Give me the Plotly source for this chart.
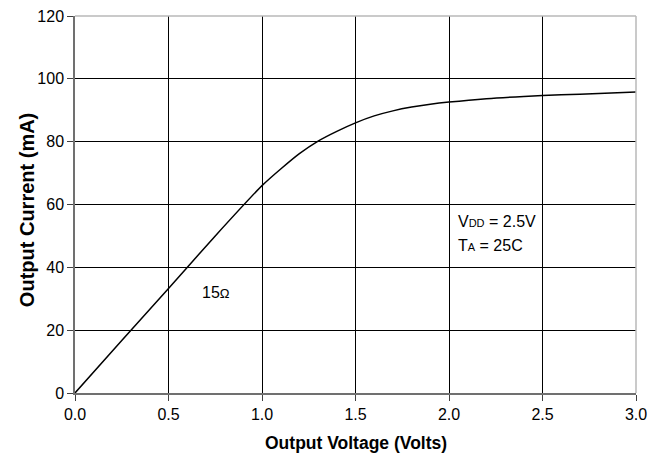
import plotly.graph_objects as go

voltage = [0.0, 0.25, 0.5, 0.75, 1.0, 1.1, 1.2, 1.3, 1.4, 1.5, 1.6, 1.7, 1.8, 1.9, 2.0, 2.2, 2.4, 2.6, 2.8, 3.0]
current = [0.0, 16.7, 33.3, 50.0, 66.0, 71.3, 76.2, 80.2, 83.3, 86.0, 88.2, 89.8, 91.0, 91.9, 92.6, 93.7, 94.4, 94.9, 95.3, 95.8]

x_ticks = [0.0, 0.5, 1.0, 1.5, 2.0, 2.5, 3.0]
x_tick_labels = ["0.0", "0.5", "1.0", "1.5", "2.0", "2.5", "3.0"]
y_ticks = [0, 20, 40, 60, 80, 100, 120]

FONT = "Liberation Sans, Arial, sans-serif"

fig = go.Figure()
fig.add_trace(go.Scatter(x=voltage, y=current, mode="lines",
                         line=dict(color="black", width=1.5, shape="spline", smoothing=0.6),
                         hoverinfo="skip", showlegend=False))

fig.update_xaxes(range=[0, 3.0], tickvals=x_ticks, ticktext=x_tick_labels,
                 showgrid=True, gridcolor="black", gridwidth=1,
                 showline=True, linecolor="#707070", linewidth=1.5,
                 ticks="outside", ticklen=6, tickcolor="#404040",
                 tickfont=dict(family=FONT, size=16, color="black"),
                 zeroline=False, automargin=False)
fig.update_yaxes(range=[0, 120], tickvals=y_ticks,
                 showgrid=True, gridcolor="black", gridwidth=1,
                 showline=True, linecolor="#707070", linewidth=1.5,
                 ticks="outside", ticklen=6, tickcolor="#404040",
                 tickfont=dict(family=FONT, size=16, color="black"),
                 zeroline=False, automargin=False)

# light top/right frame
fig.add_shape(type="line", xref="paper", yref="paper", x0=0, x1=1, y0=1, y1=1,
              line=dict(color="#b8b8b8", width=1.5))
fig.add_shape(type="line", xref="paper", yref="paper", x0=1, x1=1, y0=0, y1=1,
              line=dict(color="#b8b8b8", width=1.5))

# axis titles
fig.add_annotation(xref="paper", yref="paper", x=0.5, y=-0.133, xanchor="center", yanchor="middle",
                   showarrow=False, text="<b>Output Voltage (Volts)</b>",
                   font=dict(family=FONT, size=17.5, color="black"))
fig.add_annotation(xref="paper", yref="paper", x=-0.0856, y=0.485, xanchor="center", yanchor="middle",
                   showarrow=False, textangle=-90, text="<b>Output Current (mA)</b>",
                   font=dict(family=FONT, size=20, color="black"))

fig.add_annotation(x=2.04, y=54.5, xanchor="left", yanchor="middle", showarrow=False,
                   text="V<span style='font-size:11px'>DD</span> = 2.5V",
                   font=dict(family=FONT, size=16, color="black"))
fig.add_annotation(x=2.04, y=47.0, xanchor="left", yanchor="middle", showarrow=False,
                   text="T<span style='font-size:11px'>A</span> = 25C",
                   font=dict(family=FONT, size=16, color="black"))
fig.add_annotation(x=0.668, y=32.0, xanchor="left", yanchor="middle", showarrow=False,
                   text="15<span style='font-size:13px'>Ω</span>",
                   font=dict(family=FONT, size=16, color="black"))

fig.update_layout(width=661, height=453,
                  margin=dict(l=75, r=25, t=16, b=60),
                  paper_bgcolor="white", plot_bgcolor="white")

# remove the default 8px page margin so the figure fills the window exactly
fig.write_html("out.html", config={"displayModeBar": False},
               post_script="document.body.style.margin='0';")
